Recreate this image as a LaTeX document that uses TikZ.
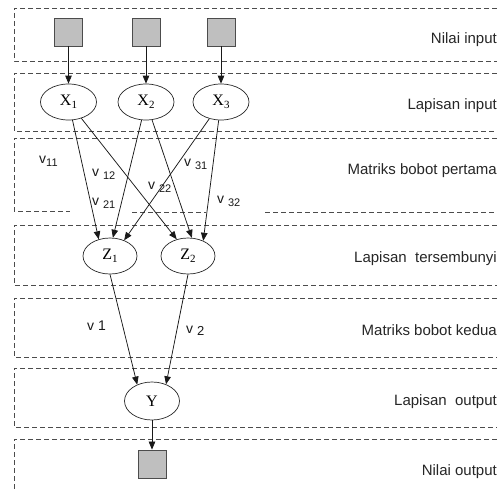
\documentclass[tikz,border=0pt]{standalone}
\usepackage{fontspec}
\setmainfont{Liberation Serif}
\newfontfamily\lsans{Liberation Sans}
\usetikzlibrary{shapes.geometric,arrows.meta}

% weight label: v with a lowered index
\newcommand\wsub[2]{v#1\raisebox{-3pt}{\fontsize{11}{12}\selectfont #2}}
% node letter with index
\newcommand\nsub[2]{#1\raisebox{-2.5pt}{\fontsize{11}{12}\selectfont #2}}

\tikzset{
  band/.style={draw=black!70, line width=0.9pt, dash pattern=on 5pt off 3pt},
  unit/.style={ellipse, draw=black!85, line width=0.7pt, inner sep=0pt,
               minimum width=56pt, minimum height=36pt,
               font=\fontsize{16}{18}\selectfont},
  value/.style={rectangle, draw=black!70, fill=black!25, line width=0.8pt,
                minimum size=28pt, inner sep=0pt},
  layer/.style={anchor=base east, text=black!85, inner sep=0pt,
                font=\lsans\fontsize{15}{18}\selectfont},
  weight/.style={anchor=base west, text=black!90, inner sep=0pt,
                 font=\lsans\fontsize{14}{16}\selectfont},
  link/.style={draw=black!90, line width=0.75pt,
               -{Triangle[length=8pt,width=6.5pt]}}
}

\begin{document}
\begin{tikzpicture}[x=1pt,y=-1pt]
\useasboundingbox (0,0) rectangle (497,489);

% ---- layer bands (open on the right) ----
\draw[band] (505,8)   -| (14,61)  -- (505,61);
\draw[band] (505,73)  -| (14,131) -- (505,131);
\draw[band] (505,138) -| (14,211) -- (70,211);
\draw[band] (132,212) -- (206,212);
\draw[band] (265,212) -- (505,212);
\draw[band] (505,225) -| (14,285) -- (505,285);
\draw[band] (505,298) -| (14,357) -- (505,357);
\draw[band] (505,368) -| (14,427) -- (505,427);
\draw[band] (505,439) -| (14,495);

% ---- layer names ----
\node[layer] (tIn)   at (497,44)  {Nilai input};
\node[layer] (tLIn)  at (497,110) {Lapisan input};
\node[layer] (tW1)   at (497,175) {Matriks bobot pertama};
\node[layer] (tHid)  at (497,262) {Lapisan~ tersembunyi};
\node[layer] (tW2)   at (497,335) {Matriks bobot kedua};
\node[layer] (tLOut) at (497,405) {Lapisan~ output};
\node[layer] (tOut)  at (497,475) {Nilai output};

% ---- input values ----
\node[value] (S1) at (68.5,32) {};
\node[value] (S2) at (146,32)  {};
\node[value] (S3) at (221,32)  {};

% ---- input layer ----
\node[unit] (X1) at (68.5,102) {\nsub{X}{1}};
\node[unit] (X2) at (146,102)  {\nsub{X}{2}};
\node[unit] (X3) at (221,102)  {\nsub{X}{3}};

% ---- hidden layer ----
\node[unit, minimum width=54pt] (Z1) at (110,256) {\nsub{Z}{1}};
\node[unit, minimum width=54pt] (Z2) at (188,256) {\nsub{Z}{2}};

% ---- output layer ----
\node[unit, minimum width=55pt, minimum height=38pt] (Y) at (152,401) {Y};
\node[value] (SO) at (152,464) {};

% ---- connections ----
\draw[link] (S1) -- (X1);
\draw[link] (S2) -- (X2);
\draw[link] (S3) -- (X3);

\draw[link] (X1) -- (Z1.124);
\draw[link] (X1) -- (Z2.124);
\draw[link] (X2) -- (Z1.81);
\draw[link] (X2) -- (Z2.78);
\draw[link] (X3) -- (Z1.48);
\draw[link] (X3) -- (Z2.45);

\draw[link] (Z1.south) -- (Y.132);
\draw[link] (Z2.south) -- (Y.50);

\draw[link] (Y) -- (SO);

% ---- weight labels ----
\node[weight] (v11) at (39,163)  {\wsub{}{11}};
\node[weight] (v12) at (92,176)  {\wsub{\ }{12}};
\node[weight] (v21) at (92,205)  {\wsub{\ }{21}};
\node[weight] (v22) at (148,189) {\wsub{\ }{22}};
\node[weight] (v31) at (184,166) {\wsub{\ }{31}};
\node[weight] (v32) at (217,203) {\wsub{\ }{32}};
\node[weight] (w1)  at (87,330)  {v 1};
\node[weight] (w2)  at (186,333) {v\ \raisebox{-2pt}{\fontsize{13}{14}\selectfont 2}};
\end{tikzpicture}
\end{document}
